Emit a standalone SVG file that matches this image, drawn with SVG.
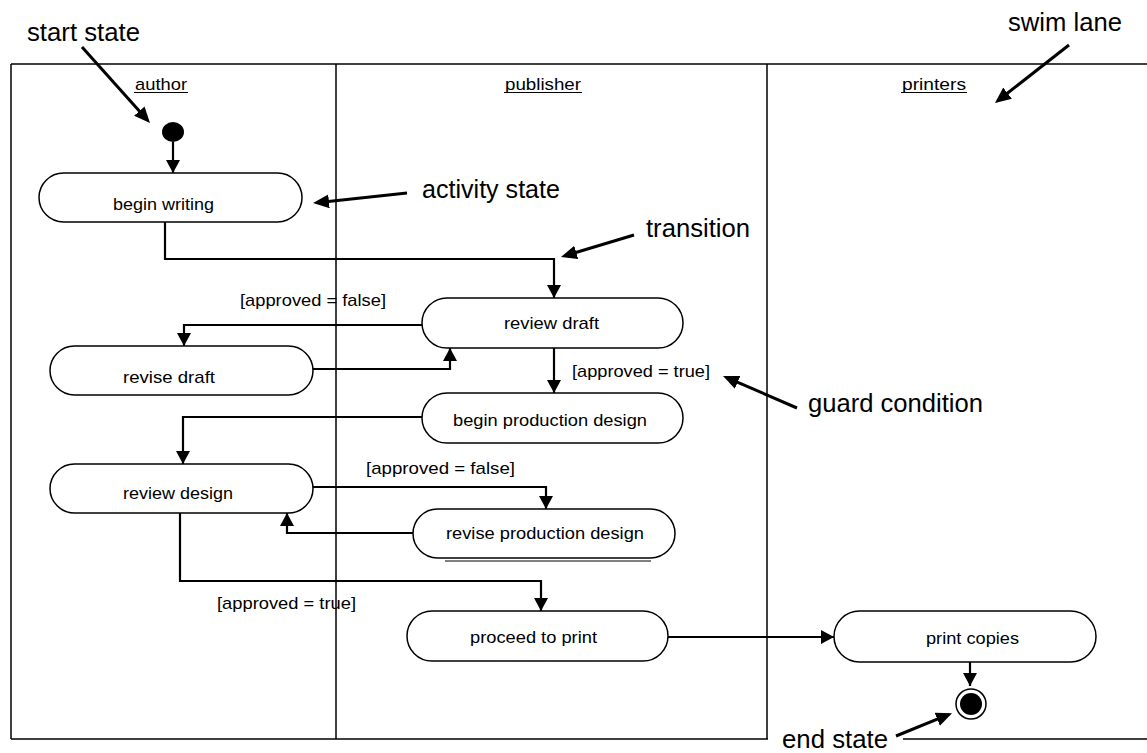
<svg xmlns="http://www.w3.org/2000/svg" width="1147" height="753" viewBox="0 0 1147 753">
<style>
text{font-family:"Liberation Sans",Arial,sans-serif;fill:#000}
.small{font-size:17px}
.big{font-size:25px}
.node{fill:#fff;stroke:#000;stroke-width:1.5}
.frame{fill:none;stroke:#000;stroke-width:1.5}
.conn{fill:none;stroke:#000;stroke-width:2.2;marker-end:url(#arr)}
.ann{fill:none;stroke:#000;stroke-width:3;marker-end:url(#annArr)}
</style>
<defs>
<marker id="arr" markerUnits="userSpaceOnUse" markerWidth="14" markerHeight="14" refX="13" refY="7" orient="auto"><path d="M0,0 L13,7 L0,14 z" fill="#000"/></marker>
<marker id="annArr" markerUnits="userSpaceOnUse" markerWidth="17" markerHeight="15" refX="10" refY="7" orient="auto"><path d="M0,0 L16,7 L0,14 z" fill="#000"/></marker>
</defs>
<rect width="1147" height="753" fill="#fff"/>
<g id="swimlanes">
<line class="frame" x1="11" y1="64" x2="1147" y2="64"/>
<line class="frame" x1="11" y1="64" x2="11" y2="739"/>
<line class="frame" x1="11" y1="739" x2="768" y2="739"/>
<line class="frame" x1="903" y1="739" x2="1147" y2="739"/>
<line class="frame" x1="336" y1="64" x2="336" y2="739"/>
<line class="frame" x1="767" y1="64" x2="767" y2="739"/>
<text class="small" x="135" y="90" textLength="52" lengthAdjust="spacingAndGlyphs">author</text>
<line x1="134" y1="92.5" x2="188" y2="92.5" stroke="#000" stroke-width="1"/>
<text class="small" x="505" y="90" textLength="76" lengthAdjust="spacingAndGlyphs">publisher</text>
<line x1="504" y1="92.5" x2="582" y2="92.5" stroke="#000" stroke-width="1"/>
<text class="small" x="902" y="90" textLength="64" lengthAdjust="spacingAndGlyphs">printers</text>
<line x1="901" y1="92.5" x2="967" y2="92.5" stroke="#000" stroke-width="1"/>
</g>
<g id="connectors">
<line class="conn" x1="173" y1="142" x2="173" y2="173"/>
<polyline class="conn" points="165,222 165,259 554,259 554,298"/>
<polyline class="conn" points="422,325 184,325 184,346"/>
<polyline class="conn" points="313,369 450,369 450,348"/>
<line class="conn" x1="554" y1="348" x2="554" y2="393"/>
<polyline class="conn" points="422,417 183,417 183,464"/>
<polyline class="conn" points="313,487 546,487 546,509"/>
<polyline class="conn" points="413,533 287,533 287,513"/>
<polyline class="conn" points="180,513 180,581 541,581 541,611"/>
<line class="conn" x1="668" y1="637" x2="834" y2="637"/>
<line class="conn" x1="970" y1="662" x2="970" y2="686"/>
<text class="small" x="240" y="306" textLength="146" lengthAdjust="spacingAndGlyphs">[approved = false]</text>
<text class="small" x="572" y="377" textLength="138" lengthAdjust="spacingAndGlyphs">[approved = true]</text>
<text class="small" x="366" y="474" textLength="149" lengthAdjust="spacingAndGlyphs">[approved = false]</text>
<text class="small" x="217" y="609" textLength="139" lengthAdjust="spacingAndGlyphs">[approved = true]</text>
</g>
<g id="start-state"><ellipse cx="173" cy="132" rx="11" ry="10" fill="#000"/></g>
<g id="begin-writing">
<rect class="node" x="39" y="173" width="263" height="49" rx="24.5" ry="24.5"/>
<text class="small" x="163.5" y="210" text-anchor="middle" textLength="101" lengthAdjust="spacingAndGlyphs">begin writing</text>
</g>
<g id="review-draft">
<rect class="node" x="422" y="298" width="261" height="50" rx="25" ry="25"/>
<text class="small" x="551.5" y="329" text-anchor="middle" textLength="95" lengthAdjust="spacingAndGlyphs">review draft</text>
</g>
<g id="revise-draft">
<rect class="node" x="50" y="346" width="263" height="49" rx="24.5" ry="24.5"/>
<text class="small" x="169" y="383" text-anchor="middle" textLength="92" lengthAdjust="spacingAndGlyphs">revise draft</text>
</g>
<g id="begin-production-design">
<rect class="node" x="422" y="393" width="261" height="50" rx="25" ry="25"/>
<text class="small" x="550" y="426" text-anchor="middle" textLength="194" lengthAdjust="spacingAndGlyphs">begin production design</text>
</g>
<g id="review-design">
<rect class="node" x="50" y="464" width="263" height="49" rx="24.5" ry="24.5"/>
<text class="small" x="178" y="499" text-anchor="middle" textLength="110" lengthAdjust="spacingAndGlyphs">review design</text>
</g>
<g id="revise-production-design">
<rect class="node" x="413" y="509" width="262" height="49" rx="24.5" ry="24.5"/>
<line x1="445" y1="561" x2="651" y2="561" stroke="#000" stroke-width="1"/>
<text class="small" x="545" y="539" text-anchor="middle" textLength="198" lengthAdjust="spacingAndGlyphs">revise production design</text>
</g>
<g id="proceed-to-print">
<rect class="node" x="407" y="611" width="261" height="50" rx="25" ry="25"/>
<text class="small" x="533.5" y="643" text-anchor="middle" textLength="127" lengthAdjust="spacingAndGlyphs">proceed to print</text>
</g>
<g id="print-copies">
<rect class="node" x="834" y="611" width="262" height="51" rx="25.5" ry="25.5"/>
<text class="small" x="972.5" y="644" text-anchor="middle" textLength="93" lengthAdjust="spacingAndGlyphs">print copies</text>
</g>
<g id="end-state">
<circle cx="971" cy="704" r="15" fill="#fff" stroke="#000" stroke-width="1.5"/>
<circle cx="971" cy="704" r="11" fill="#000"/>
</g>
<g id="annotations">
<text class="big" x="27" y="41" textLength="113" lengthAdjust="spacingAndGlyphs">start state</text>
<line class="ann" x1="82" y1="47" x2="146" y2="118.5"/>
<text class="big" x="422" y="198" textLength="138" lengthAdjust="spacingAndGlyphs">activity state</text>
<line class="ann" x1="407" y1="193" x2="319" y2="202.4"/>
<text class="big" x="646" y="237" textLength="104" lengthAdjust="spacingAndGlyphs">transition</text>
<line class="ann" x1="634" y1="235" x2="566.7" y2="255.3"/>
<text class="big" x="808" y="412" textLength="175" lengthAdjust="spacingAndGlyphs">guard condition</text>
<line class="ann" x1="797" y1="408" x2="728.5" y2="378.4"/>
<text class="big" x="1008" y="31" textLength="114" lengthAdjust="spacingAndGlyphs">swim lane</text>
<line class="ann" x1="1069" y1="45" x2="999.7" y2="99.3"/>
<text class="big" x="782" y="748" textLength="106" lengthAdjust="spacingAndGlyphs">end state</text>
<line class="ann" x1="896" y1="736" x2="946.5" y2="715.4"/>
</g>
</svg>
